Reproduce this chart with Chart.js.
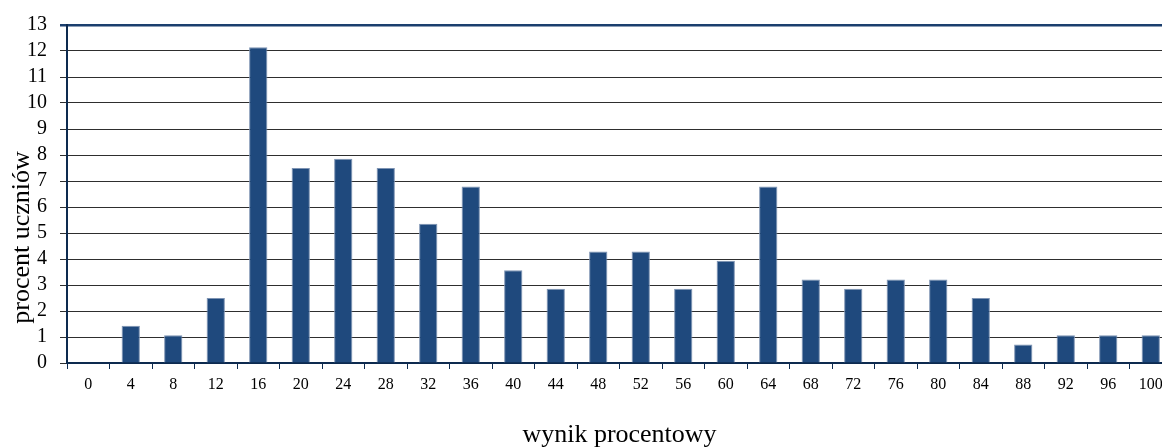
<!DOCTYPE html>
<html lang="pl">
<head>
    <meta charset="UTF-8">
    <title>Wynik procentowy</title>
    <script src="https://cdn.jsdelivr.net/npm/chart.js"></script>
    <style>
        html, body {
            margin: 0;
            padding: 0;
            overflow: hidden;
            background: #fff;
        }
        #wrap {
            position: absolute;
            left: 0;
            top: 0;
            width: 1172px;
            height: 448px;
        }
    </style>
</head>
<body>
    <div id="wrap">
        <canvas id="barChart" width="1172" height="448"></canvas>
    </div>

    <script>
        // dane
        const categories = ['0', '4', '8', '12', '16', '20', '24', '28', '32', '36', '40', '44', '48',
            '52', '56', '60', '64', '68', '72', '76', '80', '84', '88', '92', '96', '100'];
        const percentValues = [0, 1.43, 1.07, 2.5, 12.14, 7.5, 7.86, 7.5, 5.36, 6.79, 3.57, 2.86, 4.29,
            4.29, 2.86, 3.93, 6.79, 3.21, 2.86, 3.21, 3.21, 2.5, 0.71, 1.07, 1.07, 1.07];
        const yMax = 13;

        const serif = "'Liberation Serif', 'Times New Roman', serif";
        const axisColor = '#0d2a4f';

        // tytuł osi Y rysowany ręcznie (w oryginale jest przesunięty w dół)
        const yTitlePlugin = {
            id: 'yTitle',
            afterDraw(chart) {
                const ctx = chart.ctx;
                ctx.save();
                ctx.translate(22, 237.5);
                ctx.rotate(-Math.PI / 2);
                ctx.font = '26px ' + serif;
                ctx.fillStyle = '#000';
                ctx.textAlign = 'center';
                ctx.textBaseline = 'middle';
                ctx.fillText('procent uczniów', 0, 0);
                ctx.restore();
            }
        };

        new Chart(document.getElementById('barChart').getContext('2d'), {
            type: 'bar',
            data: {
                labels: categories,
                datasets: [{
                    label: 'procent uczniów',
                    data: percentValues,
                    backgroundColor: '#1f497d',
                    borderColor: '#7d93b3',
                    borderWidth: 1,
                    categoryPercentage: 1,
                    barPercentage: 0.43
                }]
            },
            options: {
                responsive: false,
                devicePixelRatio: 1,
                animation: false,
                layout: { padding: { top: 22, left: 0, right: 0, bottom: 0 } },
                plugins: {
                    legend: { display: false },
                    tooltip: { enabled: false }
                },
                scales: {
                    x: {
                        afterFit: (scale) => { scale.height = 85; },
                        grid: {
                            offset: true,
                            drawOnChartArea: false,
                            drawTicks: true,
                            tickLength: 6,
                            color: axisColor
                        },
                        border: { display: true, color: axisColor, width: 2 },
                        ticks: {
                            color: '#000',
                            font: { family: serif, size: 16 },
                            padding: 6,
                            maxRotation: 0,
                            autoSkip: false
                        },
                        title: {
                            display: true,
                            text: 'wynik procentowy',
                            color: '#000',
                            font: { family: serif, size: 26 },
                            padding: { top: 0, bottom: -3 }
                        }
                    },
                    y: {
                        min: 0,
                        max: yMax,
                        afterFit: (scale) => { scale.width = 67; },
                        grid: {
                            drawTicks: true,
                            tickLength: 7,
                            color: (c) => c.tick && c.tick.value === yMax ? '#1b3f6e' : '#2e2e2e',
                            lineWidth: (c) => c.tick && c.tick.value === yMax ? 2.5 : 1
                        },
                        border: { display: true, color: axisColor, width: 2 },
                        ticks: {
                            stepSize: 1,
                            autoSkip: false,
                            color: '#000',
                            font: { family: serif, size: 20 },
                            padding: 13
                        }
                    }
                }
            },
            plugins: [yTitlePlugin]
        });
    </script>
</body>
</html>
